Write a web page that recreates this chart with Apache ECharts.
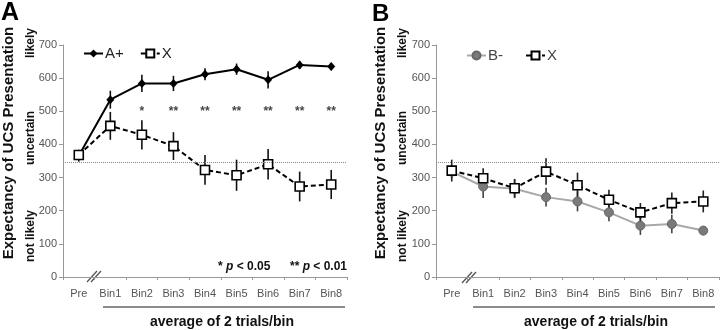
<!DOCTYPE html>
<html><head><meta charset="utf-8">
<script src="https://cdn.jsdelivr.net/npm/echarts@6/dist/echarts.min.js"></script>
<style>html,body{margin:0;padding:0;background:#fff}#c{width:720px;height:330px}</style>
</head><body><div id="c"></div>
<script>
const categories = ['Pre','Bin1','Bin2','Bin3','Bin4','Bin5','Bin6','Bin7','Bin8'];
const yTicks = [0,100,200,300,400,500,600,700];
const aPlus = [366, 535, 584, 584, 612, 627, 595, 640, 635];
const aPlusErr = [18, 27, 26, 23, 18, 17, 26, 12, 11];
const aX = [368, 456, 429, 395, 323, 307, 340, 273, 279];
const aXErr = [15, 42, 44, 42, 45, 47, 46, 45, 44];
const bMinus = [318, 273, 266, 241, 228, 195, 155, 160, 140];
const bMinusErr = [20, 35, 28, 28, 30, 27, 28, 28, 14];
const bX = [321, 298, 268, 318, 277, 233, 195, 223, 228];
const bXErr = [33, 30, 28, 40, 38, 30, 28, 32, 33];
const stars = ['', '', '*', '**', '**', '**', '**', '**', '**'];
const starLevel = 500;
const threshold = 345;

const FF = '"Liberation Sans", Arial, sans-serif';
const chart = echarts.init(document.getElementById('c'), null, {renderer:'canvas'});

function errData(v, e){ return v.map((y,i)=>[i, y-e[i], y+e[i]]); }
function errSeries(v, e, idx, color){
  return {type:'custom', xAxisIndex:idx, yAxisIndex:idx, z:1, silent:true,
    data: errData(v,e),
    renderItem(params, api){
      const a = api.coord([api.value(0), api.value(1)]);
      const b = api.coord([api.value(0), api.value(2)]);
      return {type:'line', shape:{x1:a[0],y1:a[1],x2:b[0],y2:b[1]}, style:{stroke:color, lineWidth:1.6}};
    }};
}
function xAxisCfg(idx){
  return {type:'category', gridIndex:idx, data:categories, boundaryGap:true,
    axisLine:{lineStyle:{color:'#999', width:1}},
    axisTick:{show:true, length:3, lineStyle:{color:'#999'}},
    axisLabel:{color:'#555', fontSize:11, fontFamily:FF, margin:11}};
}
function yAxisCfg(idx){
  return {type:'value', gridIndex:idx, min:yTicks[0], max:yTicks[yTicks.length-1], interval:100,
    axisLine:{show:true, lineStyle:{color:'#999', width:1}},
    axisTick:{show:true, length:4, lineStyle:{color:'#999'}},
    splitLine:{show:false},
    axisLabel:{color:'#555', fontSize:11, fontFamily:FF, margin:6}};
}
const thresholdLine = {silent:true, symbol:'none', label:{show:false},
  lineStyle:{type:'dotted', color:'#888', width:1}, data:[{yAxis:threshold}]};

function breakMark(x0, y0){
  return [0,4].map(d=>({type:'line', shape:{x1:x0+d, y1:y0+11, x2:x0+d+10, y2:y0}, style:{stroke:'#555', lineWidth:1.3}}));
}
function vText(txt, x, y, size){
  return {type:'text', x:x, y:y, rotation:Math.PI/2, style:{text:txt, font:'bold '+size+'px '+FF, fill:'#111', align:'center', verticalAlign:'middle'}};
}

const option = {
  animation:false,
  grid:[{left:63, top:45, width:284, height:232}, {left:436, top:45, width:283, height:232}],
  xAxis:[xAxisCfg(0), xAxisCfg(1)],
  yAxis:[yAxisCfg(0), yAxisCfg(1)],
  legend:[
    {data:['A+','X'], left:78, top:41, itemWidth:19, itemHeight:10, itemGap:16, textStyle:{fontSize:15, color:'#222', fontFamily:FF, padding:[0,0,0,-3]}},
    {data:['B-',{name:'X '}], left:461, top:43, itemWidth:19, itemHeight:10, itemGap:22, textStyle:{fontSize:15, color:'#444', fontFamily:FF, padding:[0,0,0,-3]}}
  ],
  series:[
    errSeries(aPlus, aPlusErr, 0, '#111'),
    errSeries(aX, aXErr, 0, '#111'),
    {name:'A+', type:'line', xAxisIndex:0, yAxisIndex:0, data:aPlus, z:3,
      symbol:'diamond', symbolSize:[8,9], itemStyle:{color:'#000'}, lineStyle:{color:'#000', width:2},
      markLine:thresholdLine},
    {name:'X', type:'line', xAxisIndex:0, yAxisIndex:0, data:aX, z:4,
      symbol:'rect', symbolSize:9, itemStyle:{color:'#fff', borderColor:'#000', borderWidth:1.6},
      lineStyle:{color:'#000', width:2, type:[5,3]}},
    {type:'scatter', xAxisIndex:0, yAxisIndex:0, data:stars.map((s,i)=>[i, starLevel, s]), symbolSize:0, silent:true,
      label:{show:true, position:'inside', formatter:p=>p.data[2], fontSize:12, fontWeight:'bold', color:'#111', fontFamily:FF}},
    errSeries(bMinus, bMinusErr, 1, '#444'),
    errSeries(bX, bXErr, 1, '#222'),
    {name:'B-', type:'line', xAxisIndex:1, yAxisIndex:1, data:bMinus, z:3,
      symbol:'circle', symbolSize:9, itemStyle:{color:'#7a7a7a', borderColor:'#666', borderWidth:1},
      lineStyle:{color:'#a8a8a8', width:2}, markLine:thresholdLine},
    {name:'X ', type:'line', xAxisIndex:1, yAxisIndex:1, data:bX, z:4,
      symbol:'rect', symbolSize:9, itemStyle:{color:'#fff', borderColor:'#000', borderWidth:1.6},
      lineStyle:{color:'#000', width:2, type:[5,3]}}
  ],
  graphic:[
    {type:'text', x:1, y:1, style:{text:'A', font:'bold 25px '+FF, fill:'#000'}},
    {type:'text', x:372, y:2, style:{text:'B', font:'bold 24px '+FF, fill:'#000'}},
    vText('Expectancy of UCS Presentation', 9, 143, 15),
    vText('likely', 31, 43, 12),
    vText('uncertain', 31, 138, 12),
    vText('not likely', 31, 236, 12),
    vText('Expectancy of UCS Presentation', 381, 143, 15),
    vText('likely', 403, 43, 12),
    vText('uncertain', 403, 138, 12),
    vText('not likely', 403, 236, 12),
    ...breakMark(87, 271),
    ...breakMark(462, 272),
    {type:'line', shape:{x1:103, y1:307, x2:345, y2:307}, style:{stroke:'#666', lineWidth:1.5}},
    {type:'line', shape:{x1:473, y1:307, x2:715, y2:307}, style:{stroke:'#666', lineWidth:1.5}},
    {type:'text', x:222, y:322, style:{text:'average of 2 trials/bin', font:'bold 14px '+FF, fill:'#111', align:'center', verticalAlign:'middle'}},
    {type:'text', x:596, y:322, style:{text:'average of 2 trials/bin', font:'bold 14px '+FF, fill:'#111', align:'center', verticalAlign:'middle'}},
    {type:'text', x:218, y:267, style:{text:'* {i|p} < 0.05', font:'bold 12px '+FF, fill:'#111', verticalAlign:'middle',
      rich:{i:{fontStyle:'italic', fontWeight:'bold', fontSize:12, fontFamily:FF}}}},
    {type:'text', x:290, y:267, style:{text:'** {i|p} < 0.01', font:'bold 12px '+FF, fill:'#111', verticalAlign:'middle',
      rich:{i:{fontStyle:'italic', fontWeight:'bold', fontSize:12, fontFamily:FF}}}}
  ]
};
chart.setOption(option);
</script></body></html>
